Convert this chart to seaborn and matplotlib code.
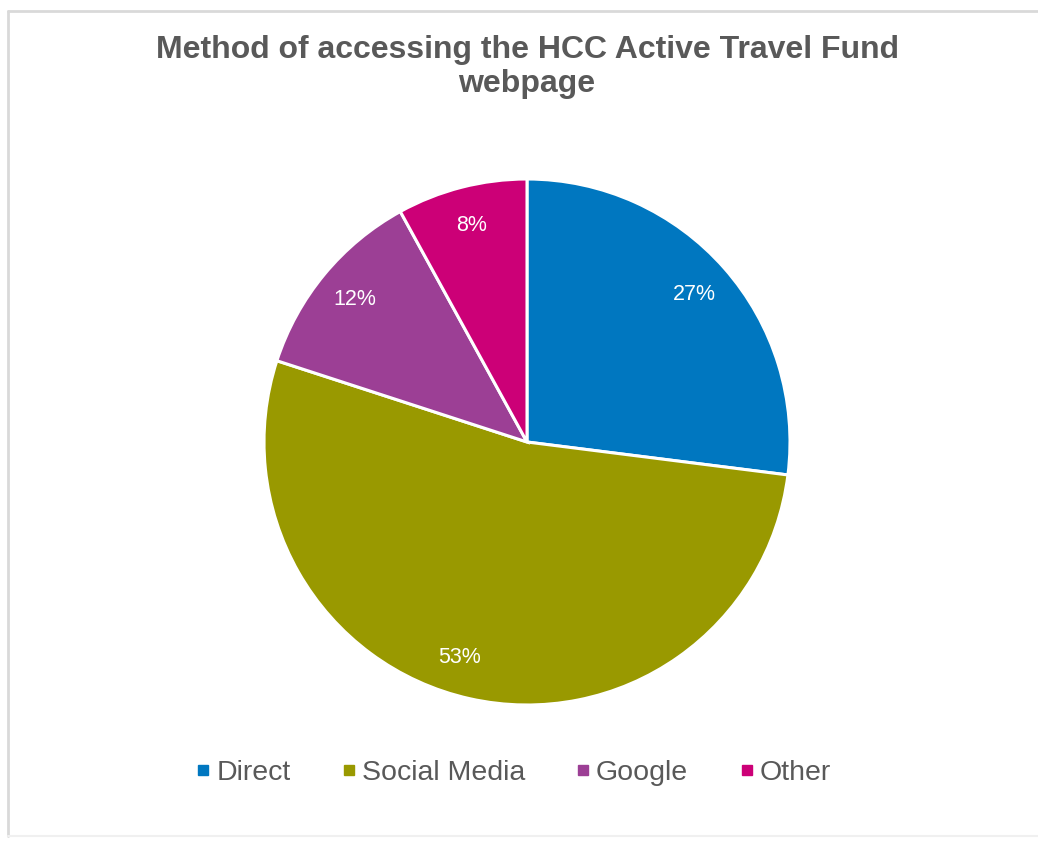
import matplotlib
matplotlib.use("Agg")
import matplotlib.pyplot as plt
from matplotlib.lines import Line2D
import seaborn as sns

categories = ["Direct", "Social Media", "Google", "Other"]
shares = [27, 53, 12, 8]
colors = ["#0077C0", "#999900", "#9C3F95", "#CC0077"]
title = "Method of accessing the HCC Active Travel Fund\nwebpage"

sns.set_theme(style="white")
plt.rcParams["font.family"] = ["Liberation Sans", "DejaVu Sans"]

W, H = 1038, 841
fig = plt.figure(figsize=(W / 100, H / 100), dpi=100)
fig.patch.set_facecolor("white")

# light chart-area border (top, left, bottom)
fig.add_artist(Line2D([8 / W, 1], [1 - 11 / H, 1 - 11 / H], transform=fig.transFigure,
                      color="#D9D9D9", linewidth=2))
fig.add_artist(Line2D([8 / W, 8 / W], [1 - 11 / H, 1 - 836 / H], transform=fig.transFigure,
                      color="#D9D9D9", linewidth=2))
fig.add_artist(Line2D([8 / W, 1], [1 - 836 / H, 1 - 836 / H], transform=fig.transFigure,
                      color="#F0F0F0", linewidth=1.5))

cx, cy, r = 527, 442, 263
ax = fig.add_axes([(cx - r) / W, 1 - (cy + r) / H, 2 * r / W, 2 * r / H])
wedges, texts, autotexts = ax.pie(
    shares, colors=colors, startangle=90, counterclock=False,
    autopct=lambda p: f"{p:.0f}%", pctdistance=0.85,
    wedgeprops=dict(edgecolor="white", linewidth=2.2),
    textprops=dict(color="white", fontsize=15.5),
)
# nudge the large wedge's label a little to the left
x0, y0 = autotexts[1].get_position()
autotexts[1].set_position((x0 - 0.07, y0 + 0.01))
ax.set_xlim(-1, 1)
ax.set_ylim(-1, 1)
ax.set_aspect("equal")
ax.axis("off")

fig.text(cx / W, 1 - 67 / H, title, ha="center", va="center",
         fontsize=23, fontweight="bold", color="#595959", linespacing=1.2)

handles = [Line2D([0], [0], marker="s", linestyle="none", markersize=7,
                  markerfacecolor=c, markeredgecolor=c) for c in colors]
fig.legend(handles, categories, loc="center", bbox_to_anchor=(512 / W, 1 - 773 / H),
           ncol=4, frameon=False, fontsize=20.5, labelcolor="#595959",
           handletextpad=0.1, columnspacing=1.7, handlelength=0.7)

fig.savefig("out.png", dpi=100, facecolor="white")
